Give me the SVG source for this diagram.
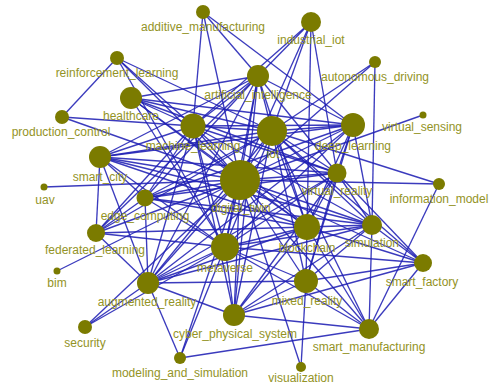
<svg xmlns="http://www.w3.org/2000/svg" width="493" height="390" viewBox="0 0 493 390">
<style>
.e line{stroke:#2020b4;stroke-width:1.35;stroke-opacity:.88}
.n circle{fill:#7b7b00}
.n text{font-family:"Liberation Sans",Arial,sans-serif;font-size:12px;fill:#939326;text-anchor:middle}
</style>
<rect width="493" height="390" fill="#ffffff"/>
<g id="connectors" class="e">
<line x1="203" y1="12" x2="193" y2="126"/>
<line x1="203" y1="12" x2="240" y2="180"/>
<line x1="203" y1="12" x2="258" y2="76"/>
<line x1="203" y1="12" x2="353" y2="125"/>
<line x1="311" y1="22" x2="258" y2="76"/>
<line x1="311" y1="22" x2="193" y2="126"/>
<line x1="311" y1="22" x2="240" y2="180"/>
<line x1="311" y1="22" x2="272" y2="131"/>
<line x1="311" y1="22" x2="307" y2="227"/>
<line x1="311" y1="22" x2="337" y2="173"/>
<line x1="117" y1="58" x2="62" y2="117"/>
<line x1="117" y1="58" x2="240" y2="180"/>
<line x1="117" y1="58" x2="272" y2="131"/>
<line x1="117" y1="58" x2="193" y2="126"/>
<line x1="117" y1="58" x2="225" y2="247"/>
<line x1="375" y1="62" x2="240" y2="180"/>
<line x1="375" y1="62" x2="272" y2="131"/>
<line x1="375" y1="62" x2="372" y2="225"/>
<line x1="131" y1="98" x2="258" y2="76"/>
<line x1="131" y1="98" x2="193" y2="126"/>
<line x1="131" y1="98" x2="272" y2="131"/>
<line x1="131" y1="98" x2="240" y2="180"/>
<line x1="131" y1="98" x2="353" y2="125"/>
<line x1="131" y1="98" x2="225" y2="247"/>
<line x1="131" y1="98" x2="307" y2="227"/>
<line x1="131" y1="98" x2="337" y2="173"/>
<line x1="62" y1="117" x2="193" y2="126"/>
<line x1="62" y1="117" x2="240" y2="180"/>
<line x1="423" y1="115" x2="240" y2="180"/>
<line x1="193" y1="126" x2="258" y2="76"/>
<line x1="193" y1="126" x2="272" y2="131"/>
<line x1="193" y1="126" x2="240" y2="180"/>
<line x1="193" y1="126" x2="353" y2="125"/>
<line x1="193" y1="126" x2="100" y2="157"/>
<line x1="193" y1="126" x2="145" y2="198"/>
<line x1="193" y1="126" x2="225" y2="247"/>
<line x1="193" y1="126" x2="307" y2="227"/>
<line x1="193" y1="126" x2="337" y2="173"/>
<line x1="193" y1="126" x2="148" y2="283"/>
<line x1="193" y1="126" x2="372" y2="225"/>
<line x1="193" y1="126" x2="234" y2="315"/>
<line x1="193" y1="126" x2="96" y2="233"/>
<line x1="272" y1="131" x2="258" y2="76"/>
<line x1="272" y1="131" x2="240" y2="180"/>
<line x1="272" y1="131" x2="353" y2="125"/>
<line x1="272" y1="131" x2="100" y2="157"/>
<line x1="272" y1="131" x2="145" y2="198"/>
<line x1="272" y1="131" x2="225" y2="247"/>
<line x1="272" y1="131" x2="307" y2="227"/>
<line x1="272" y1="131" x2="337" y2="173"/>
<line x1="272" y1="131" x2="372" y2="225"/>
<line x1="272" y1="131" x2="148" y2="283"/>
<line x1="272" y1="131" x2="234" y2="315"/>
<line x1="272" y1="131" x2="306" y2="281"/>
<line x1="272" y1="131" x2="96" y2="233"/>
<line x1="272" y1="131" x2="439" y2="184"/>
<line x1="272" y1="131" x2="423" y2="263"/>
<line x1="272" y1="131" x2="369" y2="329"/>
<line x1="258" y1="76" x2="240" y2="180"/>
<line x1="258" y1="76" x2="353" y2="125"/>
<line x1="258" y1="76" x2="100" y2="157"/>
<line x1="258" y1="76" x2="145" y2="198"/>
<line x1="258" y1="76" x2="225" y2="247"/>
<line x1="258" y1="76" x2="307" y2="227"/>
<line x1="258" y1="76" x2="337" y2="173"/>
<line x1="258" y1="76" x2="234" y2="315"/>
<line x1="258" y1="76" x2="148" y2="283"/>
<line x1="258" y1="76" x2="96" y2="233"/>
<line x1="353" y1="125" x2="240" y2="180"/>
<line x1="353" y1="125" x2="100" y2="157"/>
<line x1="353" y1="125" x2="225" y2="247"/>
<line x1="353" y1="125" x2="307" y2="227"/>
<line x1="353" y1="125" x2="337" y2="173"/>
<line x1="353" y1="125" x2="372" y2="225"/>
<line x1="353" y1="125" x2="145" y2="198"/>
<line x1="353" y1="125" x2="148" y2="283"/>
<line x1="353" y1="125" x2="306" y2="281"/>
<line x1="100" y1="157" x2="240" y2="180"/>
<line x1="100" y1="157" x2="145" y2="198"/>
<line x1="100" y1="157" x2="96" y2="233"/>
<line x1="100" y1="157" x2="225" y2="247"/>
<line x1="100" y1="157" x2="307" y2="227"/>
<line x1="100" y1="157" x2="148" y2="283"/>
<line x1="100" y1="157" x2="337" y2="173"/>
<line x1="100" y1="157" x2="372" y2="225"/>
<line x1="44" y1="187" x2="240" y2="180"/>
<line x1="145" y1="198" x2="240" y2="180"/>
<line x1="145" y1="198" x2="96" y2="233"/>
<line x1="145" y1="198" x2="225" y2="247"/>
<line x1="145" y1="198" x2="307" y2="227"/>
<line x1="145" y1="198" x2="148" y2="283"/>
<line x1="145" y1="198" x2="337" y2="173"/>
<line x1="145" y1="198" x2="372" y2="225"/>
<line x1="240" y1="180" x2="337" y2="173"/>
<line x1="240" y1="180" x2="439" y2="184"/>
<line x1="240" y1="180" x2="96" y2="233"/>
<line x1="240" y1="180" x2="307" y2="227"/>
<line x1="240" y1="180" x2="372" y2="225"/>
<line x1="240" y1="180" x2="225" y2="247"/>
<line x1="240" y1="180" x2="57" y2="271"/>
<line x1="240" y1="180" x2="423" y2="263"/>
<line x1="240" y1="180" x2="148" y2="283"/>
<line x1="240" y1="180" x2="306" y2="281"/>
<line x1="240" y1="180" x2="85" y2="327"/>
<line x1="240" y1="180" x2="234" y2="315"/>
<line x1="240" y1="180" x2="369" y2="329"/>
<line x1="240" y1="180" x2="180" y2="358"/>
<line x1="240" y1="180" x2="301" y2="367"/>
<line x1="337" y1="173" x2="225" y2="247"/>
<line x1="337" y1="173" x2="307" y2="227"/>
<line x1="337" y1="173" x2="372" y2="225"/>
<line x1="337" y1="173" x2="306" y2="281"/>
<line x1="337" y1="173" x2="148" y2="283"/>
<line x1="337" y1="173" x2="423" y2="263"/>
<line x1="337" y1="173" x2="234" y2="315"/>
<line x1="439" y1="184" x2="369" y2="329"/>
<line x1="96" y1="233" x2="225" y2="247"/>
<line x1="96" y1="233" x2="307" y2="227"/>
<line x1="96" y1="233" x2="148" y2="283"/>
<line x1="307" y1="227" x2="225" y2="247"/>
<line x1="307" y1="227" x2="372" y2="225"/>
<line x1="307" y1="227" x2="423" y2="263"/>
<line x1="307" y1="227" x2="306" y2="281"/>
<line x1="307" y1="227" x2="148" y2="283"/>
<line x1="307" y1="227" x2="234" y2="315"/>
<line x1="307" y1="227" x2="369" y2="329"/>
<line x1="372" y1="225" x2="225" y2="247"/>
<line x1="372" y1="225" x2="423" y2="263"/>
<line x1="372" y1="225" x2="306" y2="281"/>
<line x1="372" y1="225" x2="369" y2="329"/>
<line x1="372" y1="225" x2="148" y2="283"/>
<line x1="372" y1="225" x2="234" y2="315"/>
<line x1="225" y1="247" x2="148" y2="283"/>
<line x1="225" y1="247" x2="306" y2="281"/>
<line x1="225" y1="247" x2="234" y2="315"/>
<line x1="225" y1="247" x2="85" y2="327"/>
<line x1="225" y1="247" x2="180" y2="358"/>
<line x1="225" y1="247" x2="423" y2="263"/>
<line x1="225" y1="247" x2="369" y2="329"/>
<line x1="423" y1="263" x2="306" y2="281"/>
<line x1="423" y1="263" x2="369" y2="329"/>
<line x1="423" y1="263" x2="234" y2="315"/>
<line x1="148" y1="283" x2="306" y2="281"/>
<line x1="148" y1="283" x2="234" y2="315"/>
<line x1="148" y1="283" x2="180" y2="358"/>
<line x1="148" y1="283" x2="85" y2="327"/>
<line x1="306" y1="281" x2="234" y2="315"/>
<line x1="306" y1="281" x2="369" y2="329"/>
<line x1="306" y1="281" x2="301" y2="367"/>
<line x1="234" y1="315" x2="369" y2="329"/>
<line x1="180" y1="358" x2="369" y2="329"/>
</g>
<g id="additive_manufacturing" class="n"><circle cx="203" cy="12" r="7"/><text x="203" y="31">additive_manufacturing</text></g>
<g id="industrial_iot" class="n"><circle cx="311" cy="22" r="10"/><text x="311" y="44">industrial_iot</text></g>
<g id="reinforcement_learning" class="n"><circle cx="117" cy="58" r="7"/><text x="117" y="77">reinforcement_learning</text></g>
<g id="autonomous_driving" class="n"><circle cx="375" cy="62" r="6"/><text x="375" y="81">autonomous_driving</text></g>
<g id="healthcare" class="n"><circle cx="131" cy="98" r="11"/><text x="131" y="120">healthcare</text></g>
<g id="artificial_intelligence" class="n"><circle cx="258" cy="76" r="11"/><text x="258" y="99">artificial_intelligence</text></g>
<g id="production_control" class="n"><circle cx="62" cy="117" r="7"/><text x="61" y="136">production_control</text></g>
<g id="virtual_sensing" class="n"><circle cx="423" cy="115" r="3.5"/><text x="422" y="131">virtual_sensing</text></g>
<g id="machine_learning" class="n"><circle cx="193" cy="126" r="12.5"/><text x="193" y="150">machine_learning</text></g>
<g id="iot" class="n"><circle cx="272" cy="131" r="15"/><text x="273" y="158">iot</text></g>
<g id="deep_learning" class="n"><circle cx="353" cy="125" r="12"/><text x="353" y="150">deep_learning</text></g>
<g id="smart_city" class="n"><circle cx="100" cy="157" r="11"/><text x="100" y="181">smart_city</text></g>
<g id="uav" class="n"><circle cx="44" cy="187" r="3.5"/><text x="45" y="204">uav</text></g>
<g id="edge_computing" class="n"><circle cx="145" cy="198" r="8.5"/><text x="145" y="220">edge_computing</text></g>
<g id="digital_twin" class="n"><circle cx="240" cy="180" r="20"/><text x="241" y="212">digital_twin</text></g>
<g id="virtual_reality" class="n"><circle cx="337" cy="173" r="9.5"/><text x="337" y="195">virtual_reality</text></g>
<g id="information_model" class="n"><circle cx="439" cy="184" r="6"/><text x="439" y="203">information_model</text></g>
<g id="federated_learning" class="n"><circle cx="96" cy="233" r="9"/><text x="95" y="254">federated_learning</text></g>
<g id="blockchain" class="n"><circle cx="307" cy="227" r="13"/><text x="307" y="252">blockchain</text></g>
<g id="simulation" class="n"><circle cx="372" cy="225" r="10"/><text x="372" y="247">simulation</text></g>
<g id="metaverse" class="n"><circle cx="225" cy="247" r="14"/><text x="225" y="272">metaverse</text></g>
<g id="bim" class="n"><circle cx="57" cy="271" r="3.5"/><text x="57" y="287">bim</text></g>
<g id="smart_factory" class="n"><circle cx="423" cy="263" r="9"/><text x="422" y="286">smart_factory</text></g>
<g id="augmented_reality" class="n"><circle cx="148" cy="283" r="11"/><text x="147" y="306">augmented_reality</text></g>
<g id="mixed_reality" class="n"><circle cx="306" cy="281" r="12"/><text x="307" y="305">mixed_reality</text></g>
<g id="security" class="n"><circle cx="85" cy="327" r="7"/><text x="85" y="347">security</text></g>
<g id="cyber_physical_system" class="n"><circle cx="234" cy="315" r="11"/><text x="235" y="338">cyber_physical_system</text></g>
<g id="smart_manufacturing" class="n"><circle cx="369" cy="329" r="10"/><text x="369" y="351">smart_manufacturing</text></g>
<g id="modeling_and_simulation" class="n"><circle cx="180" cy="358" r="6"/><text x="180" y="377">modeling_and_simulation</text></g>
<g id="visualization" class="n"><circle cx="301" cy="367" r="5"/><text x="301" y="382">visualization</text></g>
</svg>
